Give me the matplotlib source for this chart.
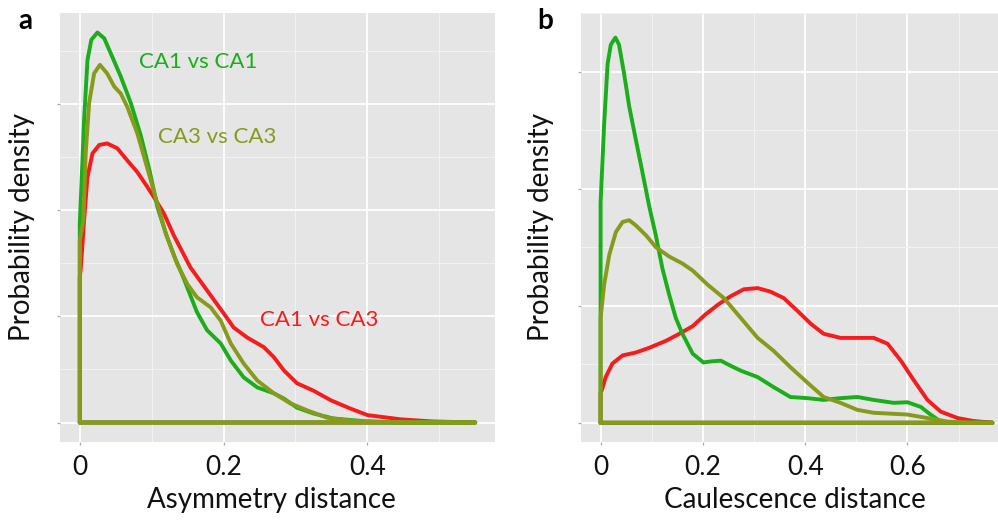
"""Density curves of pairwise distances (asymmetry / caulescence)."""
import matplotlib
matplotlib.use("Agg")
import matplotlib.pyplot as plt

plt.rcParams["font.family"] = ["Lato", "DejaVu Sans"]

GREEN = "#1aae1a"
OLIVE = "#879a1c"
RED = "#f41c1c"

# ---- panel a: asymmetry distance ----
a_max = 0.55
a_green_x = [0, 0.003, 0.006, 0.0107, 0.016, 0.0245, 0.034, 0.043, 0.057, 0.071, 0.085,
             0.097, 0.108, 0.12, 0.131, 0.145, 0.163, 0.177, 0.196, 0.21, 0.228, 0.247,
             0.27, 0.284, 0.302, 0.325, 0.353, 0.4, 0.45, 0.55]
a_green_y = [3.75, 4.7, 5.7, 6.83, 7.21, 7.35, 7.24, 6.96, 6.52, 6.02, 5.40,
             4.75, 4.06, 3.55, 3.15, 2.70, 2.08, 1.74, 1.49, 1.17, 0.85, 0.66,
             0.55, 0.45, 0.28, 0.17, 0.075, 0.02, 0.0, 0.0]

a_olive_x = [0, 0.005, 0.0083, 0.013, 0.02, 0.028, 0.038, 0.048, 0.057, 0.066, 0.08,
             0.094, 0.108, 0.12, 0.135, 0.15, 0.163, 0.182, 0.196, 0.21, 0.228, 0.247,
             0.27, 0.293, 0.316, 0.344, 0.38, 0.45, 0.55]
a_olive_y = [3.43, 3.81, 5.08, 6.02, 6.58, 6.74, 6.58, 6.33, 6.2, 5.95, 5.45,
             4.79, 4.12, 3.55, 3.0, 2.6, 2.36, 2.17, 1.92, 1.49, 1.11, 0.79,
             0.55, 0.36, 0.23, 0.09, 0.03, 0.0, 0.0]

a_red_x = [0, 0.0014, 0.006, 0.0107, 0.0176, 0.027, 0.038, 0.052, 0.066, 0.08, 0.092,
           0.103, 0.117, 0.131, 0.154, 0.177, 0.2, 0.214, 0.233, 0.256, 0.27, 0.284,
           0.302, 0.325, 0.349, 0.375, 0.4, 0.446, 0.49, 0.55]
a_red_y = [2.74, 2.9, 3.81, 4.62, 5.07, 5.23, 5.26, 5.17, 4.94, 4.72, 4.48,
           4.25, 3.94, 3.52, 2.92, 2.49, 2.06, 1.79, 1.60, 1.42, 1.23, 0.98,
           0.74, 0.60, 0.42, 0.27, 0.14, 0.06, 0.02, 0.0]

# ---- panel b: caulescence distance ----
b_max = 0.766
b_green_x = [0, 0.007, 0.0137, 0.02, 0.029, 0.036, 0.046, 0.056, 0.069, 0.082, 0.095,
             0.108, 0.121, 0.134, 0.147, 0.16, 0.18, 0.201, 0.218, 0.235, 0.255, 0.274,
             0.307, 0.338, 0.371, 0.405, 0.436, 0.469, 0.502, 0.534, 0.573, 0.6,
             0.626, 0.645, 0.665, 0.7, 0.766]
b_green_y = [3.76, 5.11, 6.13, 6.46, 6.58, 6.46, 5.96, 5.40, 4.83, 4.27, 3.70,
             3.2, 2.63, 2.19, 1.79, 1.52, 1.18, 1.03, 1.05, 1.06, 0.97, 0.89,
             0.78, 0.61, 0.44, 0.42, 0.39, 0.42, 0.44, 0.39, 0.34, 0.35,
             0.27, 0.14, 0.02, 0.0, 0.0]

b_olive_x = [0, 0.007, 0.017, 0.03, 0.043, 0.056, 0.069, 0.089, 0.108, 0.134, 0.16,
             0.18, 0.209, 0.241, 0.274, 0.307, 0.338, 0.371, 0.405, 0.436, 0.469,
             0.502, 0.534, 0.6, 0.639, 0.678, 0.72, 0.766]
b_olive_y = [1.79, 2.36, 2.87, 3.26, 3.43, 3.46, 3.37, 3.20, 3.00, 2.84, 2.72,
             2.60, 2.36, 2.13, 1.79, 1.45, 1.23, 0.95, 0.68, 0.44, 0.34,
             0.22, 0.17, 0.14, 0.08, 0.02, 0.0, 0.0]

b_red_x = [0, 0.0025, 0.01, 0.023, 0.043, 0.069, 0.095, 0.128, 0.154, 0.18, 0.205,
           0.23, 0.254, 0.28, 0.307, 0.332, 0.358, 0.385, 0.411, 0.436, 0.469,
           0.502, 0.534, 0.561, 0.587, 0.612, 0.639, 0.665, 0.698, 0.729, 0.766]
b_red_y = [0.51, 0.56, 0.78, 1.01, 1.15, 1.20, 1.28, 1.40, 1.52, 1.65, 1.85,
           2.02, 2.16, 2.28, 2.30, 2.24, 2.13, 1.91, 1.69, 1.52, 1.45,
           1.45, 1.45, 1.35, 1.06, 0.73, 0.39, 0.19, 0.08, 0.03, 0.0]

y_ticks = [0, 2, 4, 6]


def density_outline(ax, xs, ys, xmax, color):
    # geom_density style closed outline: up the y axis, along the curve, back on the baseline
    px = [0] + list(xs) + [xmax, 0]
    py = [0] + list(ys) + [0, 0]
    ax.plot(px, py, color=color, lw=2.8, solid_joinstyle="round", solid_capstyle="round")


def style_axis(ax, xticks, xlabels, xmax, ymax):
    ax.set_facecolor("#e5e5e5")
    for s in ax.spines.values():
        s.set_visible(False)
    pad_x = 0.05 * xmax
    pad_y = 0.05 * ymax
    ax.set_xlim(-pad_x, xmax + pad_x)
    ax.set_ylim(-pad_y, ymax + pad_y)
    ax.set_xticks(xticks)
    ax.set_xticklabels(xlabels)
    ax.set_xticks([t + 0.1 for t in xticks], minor=True)
    ax.set_yticks(y_ticks)
    ax.set_yticklabels([])
    ax.set_yticks([t + 1 for t in y_ticks], minor=True)
    ax.grid(True, which="major", color="white", lw=1.3)
    ax.grid(True, which="minor", color="#f2f2f2", lw=0.7)
    ax.set_axisbelow(True)
    ax.tick_params(which="major", length=2.5, width=0.9, color="#aaaaaa",
                   labelsize=19, pad=7, labelcolor="#111111")
    ax.tick_params(which="minor", length=0)


W, H = 998, 523
fig = plt.figure(figsize=(W / 100, H / 100), dpi=100)

ax_a = fig.add_axes([60 / W, 1 - 442 / H, 435 / W, 429 / H])
ax_b = fig.add_axes([581 / W, 1 - 442 / H, 431 / W, 429 / H])

density_outline(ax_a, a_red_x, a_red_y, a_max, RED)
density_outline(ax_a, a_green_x, a_green_y, a_max, GREEN)
density_outline(ax_a, a_olive_x, a_olive_y, a_max, OLIVE)
style_axis(ax_a, [0, 0.2, 0.4], ["0", "0.2", "0.4"], a_max, max(a_green_y))

density_outline(ax_b, b_red_x, b_red_y, b_max, RED)
density_outline(ax_b, b_green_x, b_green_y, b_max, GREEN)
density_outline(ax_b, b_olive_x, b_olive_y, b_max, OLIVE)
style_axis(ax_b, [0, 0.2, 0.4, 0.6], ["0", "0.2", "0.4", "0.6"], b_max, max(b_green_y))

# curve labels inside panel a
ax_a.text(198 / W, 1 - 62 / H, "CA1 vs CA1", transform=fig.transFigure, color=GREEN,
          fontsize=16, ha="center", va="center")
ax_a.text(217 / W, 1 - 137 / H, "CA3 vs CA3", transform=fig.transFigure, color=OLIVE,
          fontsize=16, ha="center", va="center")
ax_a.text(319 / W, 1 - 320 / H, "CA1 vs CA3", transform=fig.transFigure, color=RED,
          fontsize=16, ha="center", va="center")

# panel letters and axis titles
fig.text(25 / W, 1 - 21 / H, "a", fontsize=20, fontweight="bold", ha="center", va="center")
fig.text(545 / W, 1 - 21 / H, "b", fontsize=20, fontweight="bold", ha="center", va="center")
fig.text(22 / W, 1 - 227 / H, "Probability density", rotation=90, fontsize=20,
         ha="center", va="center", color="#111111")
fig.text(541 / W, 1 - 227 / H, "Probability density", rotation=90, fontsize=20,
         ha="center", va="center", color="#111111")
fig.text(271 / W, 1 - 500 / H, "Asymmetry distance", fontsize=20,
         ha="center", va="center", color="#111111")
fig.text(795 / W, 1 - 500 / H, "Caulescence distance", fontsize=20,
         ha="center", va="center", color="#111111")

fig.savefig("out.png", dpi=100, facecolor="white")
